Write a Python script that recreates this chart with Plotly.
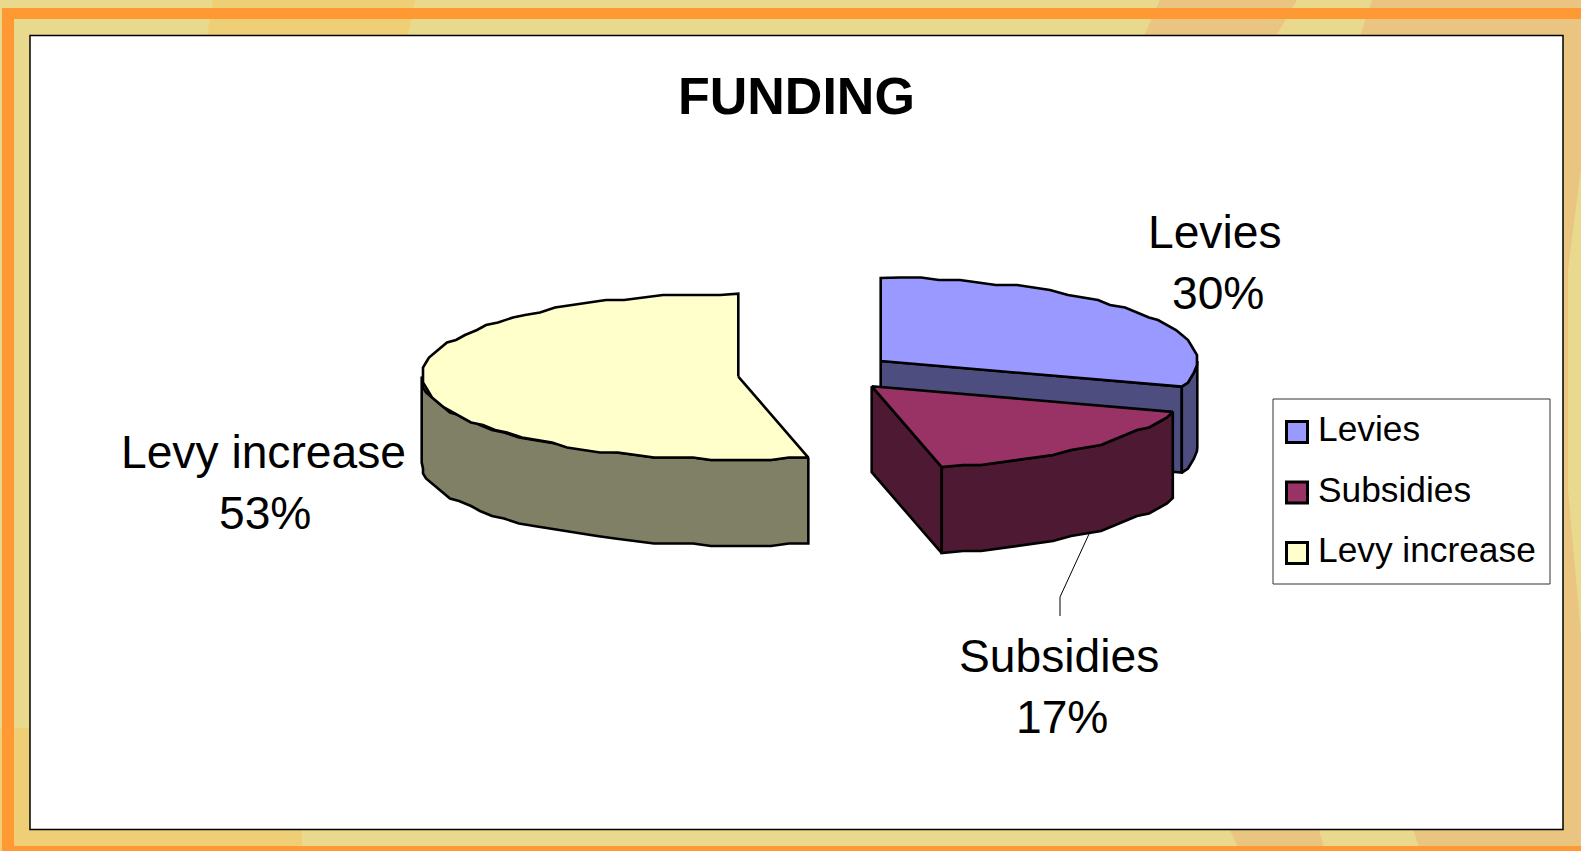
import numpy as np
import plotly.graph_objects as go

# ---- data ----
categories = ["Levies", "Subsidies", "Levy increase"]
shares = [30.0, 16.45, 53.55]
percent_labels = ["30%", "17%", "53%"]
title_text = "FUNDING"

# ---- styles ----
top_colors = ["#9999FF", "#993366", "#FFFFCC"]
side_colors = ["#4D4D80", "#4D1933", "#808066"]
FONT = "Liberation Sans, Arial, sans-serif"
W, H = 1581, 851

# ---- pie geometry (pixel-space axes) ----
A, B, DEPTH = 316.6, 83.0, 86
apexes = {"Levies": (880.7, 361.0), "Subsidies": (871.7, 386.2), "Levy increase": (738.3, 376.6)}
ends = np.cumsum([0] + shares) * 3.6
spans = {c: (ends[i], ends[i + 1]) for i, c in enumerate(categories)}


def arc(cat, t0, t1, step=3.5):
    cx, cy = apexes[cat]
    n = max(2, int(abs(t1 - t0) / step) + 1)
    t = np.radians(np.linspace(t0, t1, n))
    x = cx + A * np.sin(t)
    y = cy - B * np.cos(t)
    # coarse rounding gives the faceted outline of the original
    xr = np.round(x / 3) * 3
    yr = np.round(y / 2.5) * 2.5
    xr[0], xr[-1], yr[0], yr[-1] = x[0], x[-1], y[0], y[-1]
    return xr, yr


fig = go.Figure()


def poly(x, y, color, lw=2.6):
    fig.add_trace(go.Scatter(x=list(x), y=list(y), mode="lines", fill="toself", fillcolor=color,
                             line=dict(color="black", width=lw), hoverinfo="skip", showlegend=False))


def wall(cat, t0, t1, color):
    x, y = arc(cat, t0, t1)
    poly(np.r_[x, x[::-1], x[0]], np.r_[y, y[::-1] + DEPTH, y[0]], color)


def cut(cat, t, color):
    cx, cy = apexes[cat]
    x, y = arc(cat, t, t)
    px, py = x[0], y[0]
    poly([cx, px, px, cx, cx], [cy, py, py + DEPTH, cy + DEPTH, cy], color)


def top(cat, color):
    cx, cy = apexes[cat]
    t0, t1 = spans[cat]
    x, y = arc(cat, t0, t1)
    poly(np.r_[cx, x, cx], np.r_[cy, y, cy], color)


# Levies (rear right)
cut("Levies", spans["Levies"][1], side_colors[0])
wall("Levies", 90, spans["Levies"][1], side_colors[0])
top("Levies", top_colors[0])
# Subsidies (front right)
cut("Subsidies", spans["Subsidies"][1], side_colors[1])
wall("Subsidies", spans["Subsidies"][0], spans["Subsidies"][1], side_colors[1])
top("Subsidies", top_colors[1])
# Levy increase (left)
wall("Levy increase", spans["Levy increase"][0], 270, side_colors[2])
top("Levy increase", top_colors[2])

# Leader line for Subsidies
fig.add_trace(go.Scatter(x=[1089, 1060, 1060], y=[534, 597, 616], mode="lines",
                         line=dict(color="black", width=1), hoverinfo="skip", showlegend=False))

# Legend entries
legend_y = [432, 492.5, 553]
fig.add_trace(go.Scatter(x=[1297] * 3, y=legend_y, mode="markers",
                         marker=dict(symbol="square", size=21, color=top_colors,
                                     line=dict(color="black", width=3)),
                         hoverinfo="skip", showlegend=False))

annotations = []


def txt(x, y, s, size, bold=False, anchor="center"):
    annotations.append(dict(x=x, y=y, text=f"<b>{s}</b>" if bold else s, showarrow=False, xanchor=anchor,
                            yanchor="middle", xref="x", yref="y",
                            font=dict(family=FONT, size=size, color="black")))


txt(796, 96, title_text, 52, bold=True)
label_pos = {"Levies": (1215, 232), "Subsidies": (1059, 655.5), "Levy increase": (263, 452)}
pct_pos = {"Levies": (1218, 293), "Subsidies": (1062, 717), "Levy increase": (265, 513)}
for c, p in zip(categories, percent_labels):
    txt(*label_pos[c], c, 46.2)
    txt(*pct_pos[c], p, 46.2)
for c, y in zip(categories, [428.5, 489.5, 549.5]):
    txt(1316, y, c, 35.3, anchor="left")

# Background / frame
shapes = []


def rect(x0, y0, x1, y1, color, layer="below", line=None):
    shapes.append(dict(type="rect", x0=x0, y0=y0, x1=x1, y1=y1, xref="x", yref="y", layer=layer,
                       fillcolor=color, line=line or dict(width=0)))


def quad(pts, color):
    path = "M" + " L".join(f"{a},{b}" for a, b in pts) + " Z"
    shapes.append(dict(type="path", path=path, xref="x", yref="y", layer="below", fillcolor=color,
                       line=dict(width=0)))


PALE, GOLD, TAN, ORANGE = "#E9D98D", "#EFCF75", "#EAC581", "#FF9933"
rect(0, 0, W, H, PALE)
quad([(213, 0), (415, 0), (408, 36), (207, 36)], GOLD)
quad([(1160, 0), (1297, 0), (1276, 36), (1144, 36)], TAN)
quad([(1372, 0), (W, 0), (W, 36), (1360, 36)], TAN)
rect(1560, 0, W, H, TAN)
quad([(1581, 168), (1568, 270), (1568, 490), (1581, 635)], PALE)
rect(0, 728, 30, H, GOLD)
rect(0, 826, 302, H, GOLD)
quad([(1228, 826), (1318, 826), (1325, 851), (1240, 851)], TAN)
quad([(1412, 826), (W, 826), (W, 851), (1420, 851)], TAN)
rect(2, 8, W, 19, ORANGE)
rect(2, 8, 14, H, ORANGE)
rect(2, 846, W, H, ORANGE)
rect(30, 35.5, 1563, 829.5, "white", line=dict(color="black", width=1.5))
rect(1273, 399, 1550, 584, "white", line=dict(color="#333333", width=1))

fig.update_layout(
    width=W, height=H, autosize=False, margin=dict(l=0, r=0, t=0, b=0),
    paper_bgcolor="white", plot_bgcolor="white", showlegend=False,
    xaxis=dict(range=[0, W], visible=False, fixedrange=True),
    yaxis=dict(range=[H, 0], visible=False, fixedrange=True),
    shapes=shapes, annotations=annotations,
)
fig.write_html("out.html", config=dict(displayModeBar=False),
               post_script="document.body.style.margin='0';document.body.style.overflow='hidden';")
